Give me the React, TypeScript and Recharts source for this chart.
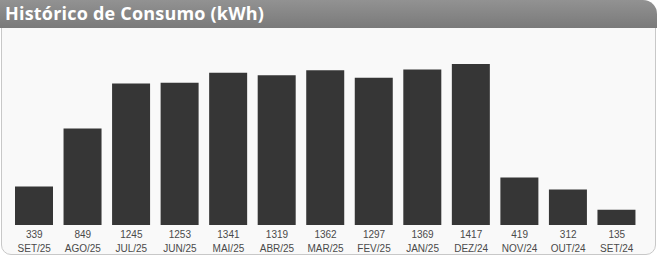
import React from "react";
import { BarChart, Bar, XAxis, YAxis } from "recharts";

const months = ["SET/25", "AGO/25", "JUL/25", "JUN/25", "MAI/25", "ABR/25", "MAR/25", "FEV/25", "JAN/25", "DEZ/24", "NOV/24", "OUT/24", "SET/24"];
const consumption = [339, 849, 1245, 1253, 1341, 1319, 1362, 1297, 1369, 1417, 419, 312, 135];
const title = "Histórico de Consumo (kWh)";

const data = months.map((m, i) => ({ month: m, kwh: consumption[i] }));

const Tick = (props: any) => {
  const { x, y, payload } = props;
  const idx = payload.index;
  return (
    <g>
      <text x={x} y={y + 11} textAnchor="middle" fontSize={10} fill="#4a4a4a" fontFamily="Liberation Sans, Arial, sans-serif">
        {consumption[idx]}
      </text>
      <text x={x} y={y + 25} textAnchor="middle" fontSize={10} fill="#4a4a4a" fontFamily="Liberation Sans, Arial, sans-serif">
        {payload.value}
      </text>
    </g>
  );
};

export default function App() {
  return (
    <div style={{ position: "absolute", left: 0, top: 0, width: 657, height: 256, background: "#fff", overflow: "hidden" }}>
      <div
        style={{
          position: "absolute",
          left: 1,
          top: 27,
          width: 653,
          height: 226,
          background: "#f9f9f9",
          border: "1px solid #c8c8c8",
          borderRadius: "0 0 10px 10px",
        }}
      />
      <div
        style={{
          position: "absolute",
          left: 0,
          top: 0,
          width: 657,
          height: 28,
          background: "linear-gradient(#929292, #7a7a7a)",
          borderTopRightRadius: 14,
          color: "#fff",
          fontFamily: "'Open Sans', sans-serif",
          fontWeight: 700,
          fontSize: 18,
          letterSpacing: 0.2,
          lineHeight: "27px",
          paddingLeft: 5,
          boxSizing: "border-box",
        }}
      >
        {title}
      </div>
      <div style={{ position: "absolute", left: 0, top: 0 }}>
        <BarChart width={657} height={256} data={data} margin={{ top: 64, right: 16, bottom: 0, left: 10 }}>
          <YAxis hide domain={[0, 1417]} />
          <XAxis dataKey="month" axisLine={false} tickLine={false} interval={0} height={31} tick={<Tick />} tickSize={0} />
          <Bar dataKey="kwh" fill="#363636" barSize={38} isAnimationActive={false} />
        </BarChart>
      </div>
    </div>
  );
}
